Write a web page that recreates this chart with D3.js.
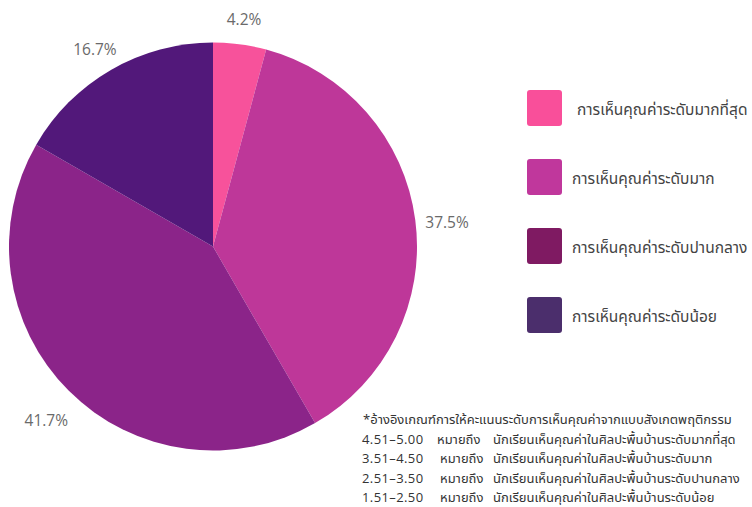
<!DOCTYPE html>
<html>
<head>
<meta charset="utf-8">
<script src="https://cdn.jsdelivr.net/npm/d3@7"></script>
<style>
  body { margin: 0; background: #fff; }
  svg { display: block; }
  .pct { font-family: "Open Sans", Lato, sans-serif; font-weight: 400; font-size: 15.5px; fill: #6a6a6a; }
  .leg { font-family: "Noto Sans Thai", "Noto Sans", sans-serif; font-size: 15.5px; fill: #444; }
  .note { font-family: "Noto Sans Thai", "Noto Sans", sans-serif; font-size: 13px; fill: #333; }
  .num { font-family: "Open Sans", "Noto Sans", sans-serif; font-size: 13px; fill: #333; letter-spacing: 0.4px; }
</style>
</head>
<body>
<svg id="chart" width="752" height="507"></svg>
<script>
const categories = ['การเห็นคุณค่าระดับมากที่สุด', 'การเห็นคุณค่าระดับมาก', 'การเห็นคุณค่าระดับปานกลาง', 'การเห็นคุณค่าระดับน้อย'];
const percents = [4.2, 37.5, 41.7, 16.7];
const sliceColors = ['#f7529b', '#be3799', '#8b2489', '#52187a'];
const legendColors = ['#f94f9a', '#c0379c', '#7f1a62', '#4b2e6c'];
const noteTitle = '*อ้างอิงเกณฑ์การให้คะแนนระดับการเห็นคุณค่าจากแบบสังเกตพฤติกรรม';
const noteRanges = ['4.51–5.00', '3.51–4.50', '2.51–3.50', '1.51–2.50'];
const noteTexts = [
  'นักเรียนเห็นคุณค่าในศิลปะพื้นบ้านระดับมากที่สุด',
  'นักเรียนเห็นคุณค่าในศิลปะพื้นบ้านระดับมาก',
  'นักเรียนเห็นคุณค่าในศิลปะพื้นบ้านระดับปานกลาง',
  'นักเรียนเห็นคุณค่าในศิลปะพื้นบ้านระดับน้อย'
];

const svg = d3.select('#chart');
const cx = 213, cy = 246.5, radius = 204;

const pie = d3.pie().sort(null).value(d => d);
const arcs = pie(percents);
const arc = d3.arc().innerRadius(0).outerRadius(radius);
const labelArc = d3.arc().innerRadius(236).outerRadius(236);

const g = svg.append('g').attr('transform', `translate(${cx},${cy})`);
g.selectAll('path').data(arcs).join('path')
  .attr('d', arc)
  .attr('fill', (d, i) => sliceColors[i]);

g.selectAll('text').data(arcs).join('text')
  .attr('class', 'pct')
  .attr('transform', d => {
    const [x, y] = labelArc.centroid(d);
    return `translate(${x},${y + 7})`;
  })
  .attr('text-anchor', 'middle')
  .attr('dy', '0.35em')
  .text(d => d.data.toFixed(1) + '%');

// legend
const legendY = d3.scalePoint().domain(categories).range([108, 315]);
const leg = svg.append('g').selectAll('g').data(categories).join('g')
  .attr('transform', d => `translate(527,${legendY(d)})`);
leg.append('rect')
  .attr('x', 0).attr('y', -18).attr('width', 35).attr('height', 36)
  .attr('rx', 3)
  .attr('fill', (d, i) => legendColors[i]);
leg.append('text')
  .attr('class', 'leg')
  .attr('x', (d, i) => i === 0 ? 50 : 45)
  .attr('y', 2)
  .attr('dy', '0.35em')
  .text(d => d);

// footnote
const noteY = d3.scaleLinear().domain([0, 4]).range([424, 502]);
const note = svg.append('g');
note.append('text').attr('class', 'note').attr('x', 363).attr('y', noteY(0)).text(noteTitle);
noteRanges.forEach((r, i) => {
  note.append('text').attr('class', 'num').attr('x', 362).attr('y', noteY(i + 1)).text(r);
  note.append('text').attr('class', 'note').attr('x', i === 0 ? 437 : 440).attr('y', noteY(i + 1)).text('หมายถึง');
  note.append('text').attr('class', 'note').attr('x', 493).attr('y', noteY(i + 1)).text(noteTexts[i]);
});
</script>
</body>
</html>
